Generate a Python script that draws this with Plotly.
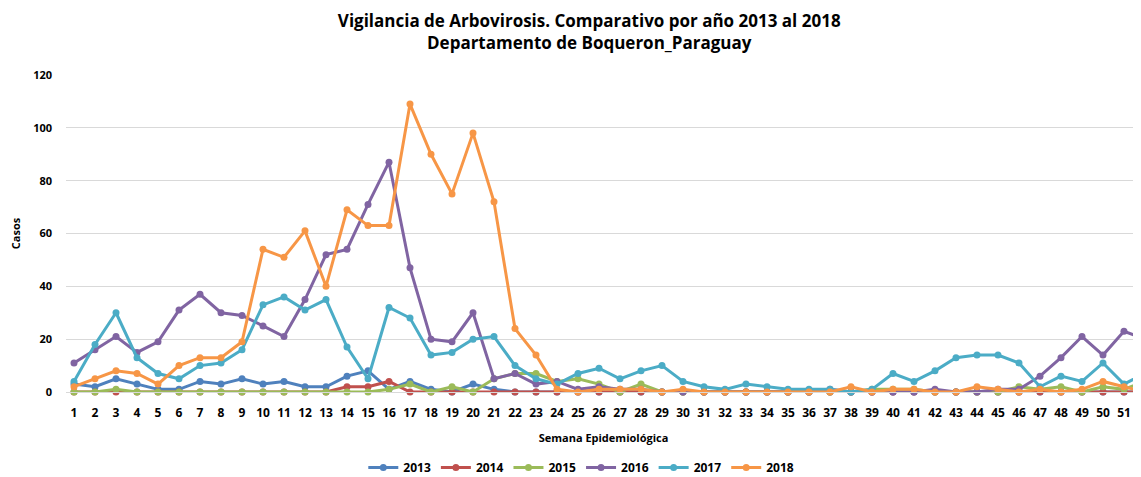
import plotly.graph_objects as go

weeks = list(range(1, 53))

y2013 = [3, 2, 5, 3, 1, 1, 4, 3, 5, 3, 4, 2, 2, 6, 8, 1, 4, 1, 0, 3, 1, 0, 0, 0, 0, 0, 0, 0, 0, 0,
         0, 0, 0, 0, 0, 0, 0, 0, 0, 0, 0, 0, 0, 0, 0, 0, 0, 0, 0, 0, 0, 0]
y2014 = [0, 0, 0, 0, 0, 0, 0, 0, 0, 0, 0, 0, 0, 2, 2, 4, 0, 0, 0, 0, 0, 0, 0, 0, 0, 0, 0, 0, 0, 0,
         0, 0, 0, 0, 0, 0, 0, 0, 0, 0, 0, 0, 0, 0, 0, 0, 0, 0, 0, 0, 0, 0]
y2015 = [0, 0, 1, 0, 0, 0, 0, 0, 0, 0, 0, 0, 0, 0, 0, 1, 3, 0, 2, 0, 5, 7, 7, 4, 5, 3, 0, 3, 0, 0,
         0, 0, 0, 0, 0, 0, 0, 0, 1, 1, 1, 0, 0, 0, 0, 2, 1, 2, 0, 2, 1, 4]
y2016 = [11, 16, 21, 15, 19, 31, 37, 30, 29, 25, 21, 35, 52, 54, 71, 87, 47, 20, 19, 30, 5, 7, 3, 4, 1, 2, 1, 1, 0, 0,
         0, 0, 0, 0, 0, 0, 1, 0, 0, 0, 0, 1, 0, 0, 1, 1, 6, 13, 21, 14, 23, 20]
y2017 = [4, 18, 30, 13, 7, 5, 10, 11, 16, 33, 36, 31, 35, 17, 5, 32, 28, 14, 15, 20, 21, 10, 5, 3, 7, 9, 5, 8, 10, 4,
         2, 1, 3, 2, 1, 1, 1, 0, 1, 7, 4, 8, 13, 14, 14, 11, 2, 6, 4, 11, 3, 7]
y2018 = [2, 5, 8, 7, 3, 10, 13, 13, 19, 54, 51, 61, 40, 69, 63, 63, 109, 90, 75, 98, 72, 24, 14, 1, 0, 1, 1, 1, 0, 1,
         0, 0, 0, 0, 0, 0, 0, 2, 0, 1, 1, 0, 0, 2, 1, 0, 1, 0, 1, 4, 2, 0]

series = [
    ("2013", y2013, "#4F81BD"),
    ("2014", y2014, "#C0504D"),
    ("2015", y2015, "#9BBB59"),
    ("2016", y2016, "#8064A2"),
    ("2017", y2017, "#4BACC6"),
    ("2018", y2018, "#F79646"),
]

fig = go.Figure()
for name, vals, col in series:
    fig.add_trace(go.Scatter(
        x=weeks, y=vals, name=name, mode="lines+markers",
        line=dict(color=col, width=3),
        marker=dict(color=col, size=7),
        cliponaxis=False,
    ))

# The page body has an 8px margin, so the figure is sized to fill the rest of the window.
fig.update_layout(
    width=1133, height=469,
    margin=dict(l=58, r=0, t=67, b=85, autoexpand=False),
    paper_bgcolor="white", plot_bgcolor="white",
    font=dict(family="Open Sans, Liberation Sans, sans-serif", color="#000000"),
    title=dict(
        text="<b>Vigilancia de Arbovirosis. Comparativo por año 2013 al 2018<br>Departamento de Boqueron_Paraguay</b>",
        x=0.513, xanchor="center", xref="container", yref="container", y=0.96, yanchor="top",
        font=dict(family="Open Sans, sans-serif", size=17, color="#000000", weight="bold"),
    ),
    legend=dict(
        orientation="h", x=0.506, xanchor="center", xref="container",
        yref="container", y=0.02, yanchor="middle",
        font=dict(size=12, family="Open Sans, sans-serif", weight="bold"),
        itemwidth=30,
    ),
    showlegend=True,
)

fig.update_xaxes(
    range=[0.619, 51.81], tickmode="array", tickvals=weeks, ticktext=[str(w) for w in weeks],
    showgrid=False, zeroline=False, showline=True, linecolor="#D9D9D9", linewidth=1,
    tickfont=dict(size=12, family="Open Sans, sans-serif", weight="bold"),
    ticks="", ticklabelstandoff=10, automargin=False,
    title=dict(text="<b>Semana Epidemiológica</b>", font=dict(size=11), standoff=13),
)
fig.update_yaxes(
    range=[0, 120], tickvals=[0, 20, 40, 60, 80, 100, 120],
    showgrid=True, gridcolor="#D9D9D9", gridwidth=1, zeroline=False,
    tickfont=dict(size=11, family="Open Sans, sans-serif", weight="bold"),
    ticks="", ticklabelstandoff=13, automargin=False,
    title=dict(text="<b>Casos</b>", font=dict(size=11), standoff=14),
)

fig.write_html("out.html")
